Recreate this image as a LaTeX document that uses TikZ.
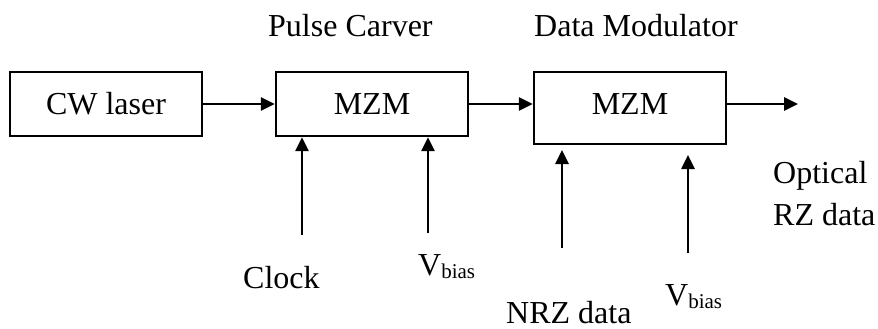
\documentclass[tikz,border=0pt]{standalone}
\usepackage{fontspec}
\setmainfont{Liberation Serif}
\usetikzlibrary{arrows.meta}
\begin{document}
\begin{tikzpicture}[x=1pt,y=-1pt,
  blk/.style={draw,line width=2.2pt,inner sep=0pt},
  arr/.style={line width=2.6pt,-{Triangle[length=14pt,width=13pt]}},
  lbl/.style={anchor=base west,inner sep=0pt,font=\fontsize{32}{36}\selectfont},
  sub/.style={font=\fontsize{21}{23}\selectfont}]
\useasboundingbox (0,0) rectangle (878,329);
\node[blk,minimum width=192pt,minimum height=64pt] (laser) at (106,104) {};
\node[blk,minimum width=192pt,minimum height=64pt] (mzm1) at (372,104) {};
\node[blk,minimum width=192pt,minimum height=72pt] (mzm2) at (630,108) {};
\node[lbl,anchor=base] (tlaser) at (106,114) {CW laser};
\node[lbl,anchor=base] (tm1) at (372,114) {MZM};
\node[lbl,anchor=base] (tm2) at (630,114) {MZM};
\node[lbl] (pc) at (268,37) {Pulse Carver};
\node[lbl] (dm) at (534,37) {Data Modulator};
\coordinate (out) at (798,104);
\draw[arr] (laser.east) -- (laser.east -| mzm1.west);
\draw[arr] (mzm1.east |- laser.east) -- (mzm2.west |- laser.east);
\draw[arr] (mzm2.east |- laser.east) -- (out);
\coordinate (c1) at (302,235);
\coordinate (c2) at (428,233);
\coordinate (c3) at (562,248);
\coordinate (c4) at (688,253);
\coordinate (t3) at (562,150);
\coordinate (t4) at (688,155);
\draw[arr] (c1) -- (c1 |- mzm1.south);
\draw[arr] (c2) -- (c2 |- mzm1.south);
\draw[arr] (c3) -- (t3);
\draw[arr] (c4) -- (t4);
\node[lbl] (clock) at (243,288) {Clock};
\node[lbl] (vb1) at (418,275) {V\raisebox{-3pt}{\fontsize{21}{23}\selectfont bias}};
\node[lbl] (nrz) at (506,323) {NRZ data};
\node[lbl] (vb2) at (665,305) {V\raisebox{-3pt}{\fontsize{21}{23}\selectfont bias}};
\node[lbl] (opt) at (773,183) {Optical};
\node[lbl] (rz) at (773,225) {RZ data};
\end{tikzpicture}
\end{document}
